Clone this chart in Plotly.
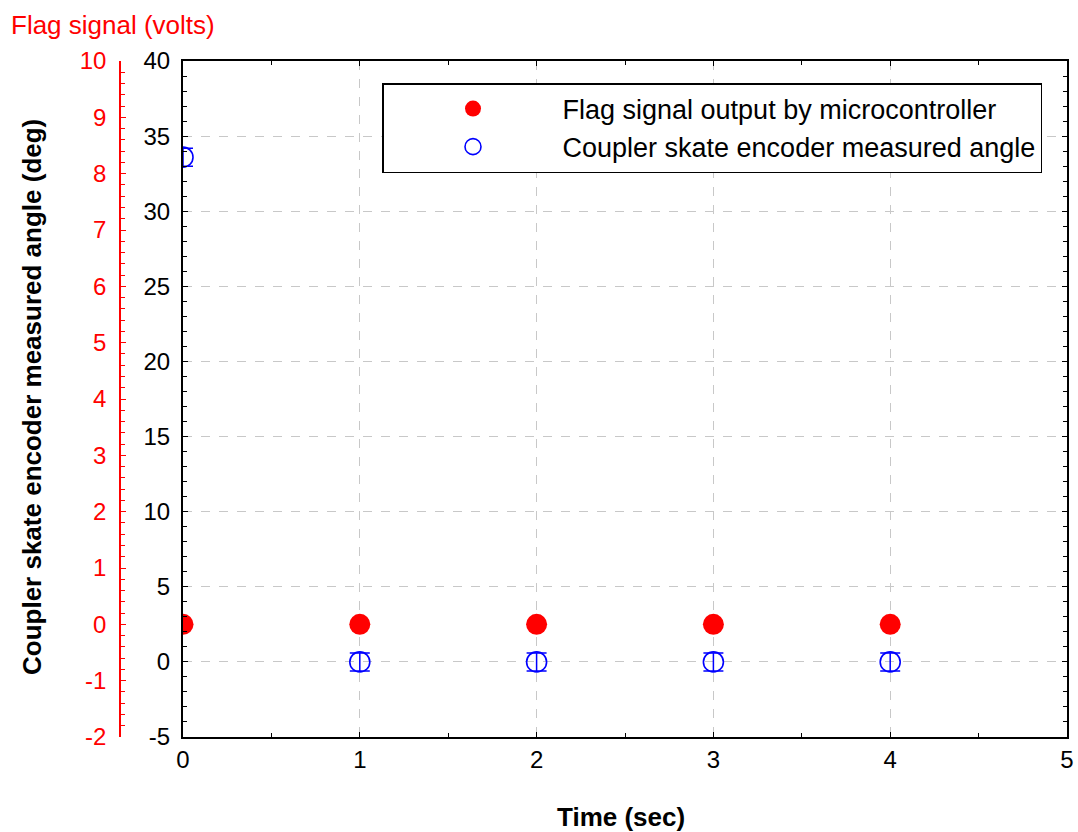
import plotly.graph_objects as go

time_s = [0, 1, 2, 3, 4]
flag_volts = [0, 0, 0, 0, 0]
angle_deg = [33.6, 0, 0, 0, 0]
angle_err = [0.6, 0.6, 0.6, 0.6, 0.6]

flag_name = "Flag signal output by microcontroller"
angle_name = "Coupler skate encoder measured angle"

x_ticks = [0, 1, 2, 3, 4, 5]
y_ticks = [-5, 0, 5, 10, 15, 20, 25, 30, 35, 40]
y2_ticks = [-2, -1, 0, 1, 2, 3, 4, 5, 6, 7, 8, 9, 10]

FONT = "Liberation Sans, Arial, sans-serif"
TICK_SIZE = 24
TEXT_SIZE = 26
W, H = 1078, 832
ML, MR, MT, MB = 0, 11, 61, 95
PW = W - ML - MR
PH = H - MT - MB
x0 = 183 / PW
red_pos = 120 / PW

fig = go.Figure()
fig.add_trace(go.Scatter(
    x=time_s, y=flag_volts, mode="markers", name=flag_name, yaxis="y2",
    marker=dict(color="#ff0000", size=21, line=dict(width=0)),
))
fig.add_trace(go.Scatter(
    x=time_s, y=angle_deg, mode="markers", name=angle_name, yaxis="y",
    marker=dict(color="rgba(0,0,0,0)", size=20, line=dict(color="#0000ff", width=1.6)),
    error_y=dict(type="data", array=angle_err, color="#0000ff", thickness=1.5, width=10),
))

axis_common = dict(
    ticks="inside", ticklen=5, tickwidth=1, tickcolor="black",
    showline=True, linecolor="black", linewidth=2, mirror="ticks",
    zeroline=False, tickfont=dict(family=FONT, size=TICK_SIZE, color="black"),
    gridcolor="#c8c8c8", griddash="dash", gridwidth=1, automargin=False,
)

def labels(vals):
    return [str(v) for v in vals]

fig.update_layout(
    width=W, height=H,
    margin=dict(l=ML, r=MR, t=MT, b=MB, pad=0, autoexpand=False),
    paper_bgcolor="white", plot_bgcolor="white",
    font=dict(family=FONT, size=TEXT_SIZE, color="black"),
    showlegend=True,
    legend=dict(
        x=382 / PW, y=(H - MB - 83) / PH, xanchor="left", yanchor="top",
        bgcolor="white", bordercolor="black", borderwidth=1.5,
        font=dict(family=FONT, size=27, color="black"),
        itemwidth=169,
    ),
    xaxis=dict(
        domain=[x0, 1], range=[0, 5],
        tickmode="array", tickvals=x_ticks, ticktext=labels(x_ticks),
        minor=dict(dtick=0.5, tick0=0, ticks="inside", ticklen=4, tickcolor="black", showgrid=False),
        showgrid=True,
        **axis_common,
    ),
    yaxis=dict(
        range=[-5, 40],
        tickmode="array", tickvals=y_ticks, ticktext=labels(y_ticks),
        minor=dict(dtick=1, tick0=0, ticks="inside", ticklen=4, tickcolor="black", showgrid=False),
        showgrid=True, ticklabelstandoff=6,
        **axis_common,
    ),
    yaxis2=dict(
        overlaying="y", anchor="free", position=red_pos, side="left",
        range=[-2, 10],
        tickmode="array", tickvals=y2_ticks, ticktext=labels(y2_ticks),
        ticks="inside", ticklen=5, tickcolor="#ff0000", tickwidth=1,
        minor=dict(dtick=0.2, tick0=0, ticks="inside", ticklen=4, tickcolor="#ff0000"),
        showline=True, linecolor="#ff0000", linewidth=1.5,
        showgrid=False, zeroline=False, automargin=False, ticklabelstandoff=8,
        tickfont=dict(family=FONT, size=TICK_SIZE, color="#ff0000"),
    ),
    annotations=[
        dict(text="Flag signal (volts)", xref="paper", yref="paper",
             x=10 / PW, y=(H - MB - 25) / PH, xanchor="left", yanchor="middle",
             showarrow=False, borderpad=0, font=dict(family=FONT, size=TEXT_SIZE, color="#ff0000")),
        dict(text="<b>Coupler skate encoder measured angle (deg)</b>", xref="paper", yref="paper",
             x=32 / PW, y=(H - MB - 397) / PH, xanchor="center", yanchor="middle", textangle=-90,
             showarrow=False, borderpad=0, font=dict(family=FONT, size=TEXT_SIZE, color="black")),
        dict(text="<b>Time (sec)</b>", xref="paper", yref="paper",
             x=(621 - ML) / PW, y=(H - MB - 817) / PH, xanchor="center", yanchor="middle",
             showarrow=False, borderpad=0, font=dict(family=FONT, size=TEXT_SIZE, color="black")),
    ],
)

fig.write_html("out.html")
